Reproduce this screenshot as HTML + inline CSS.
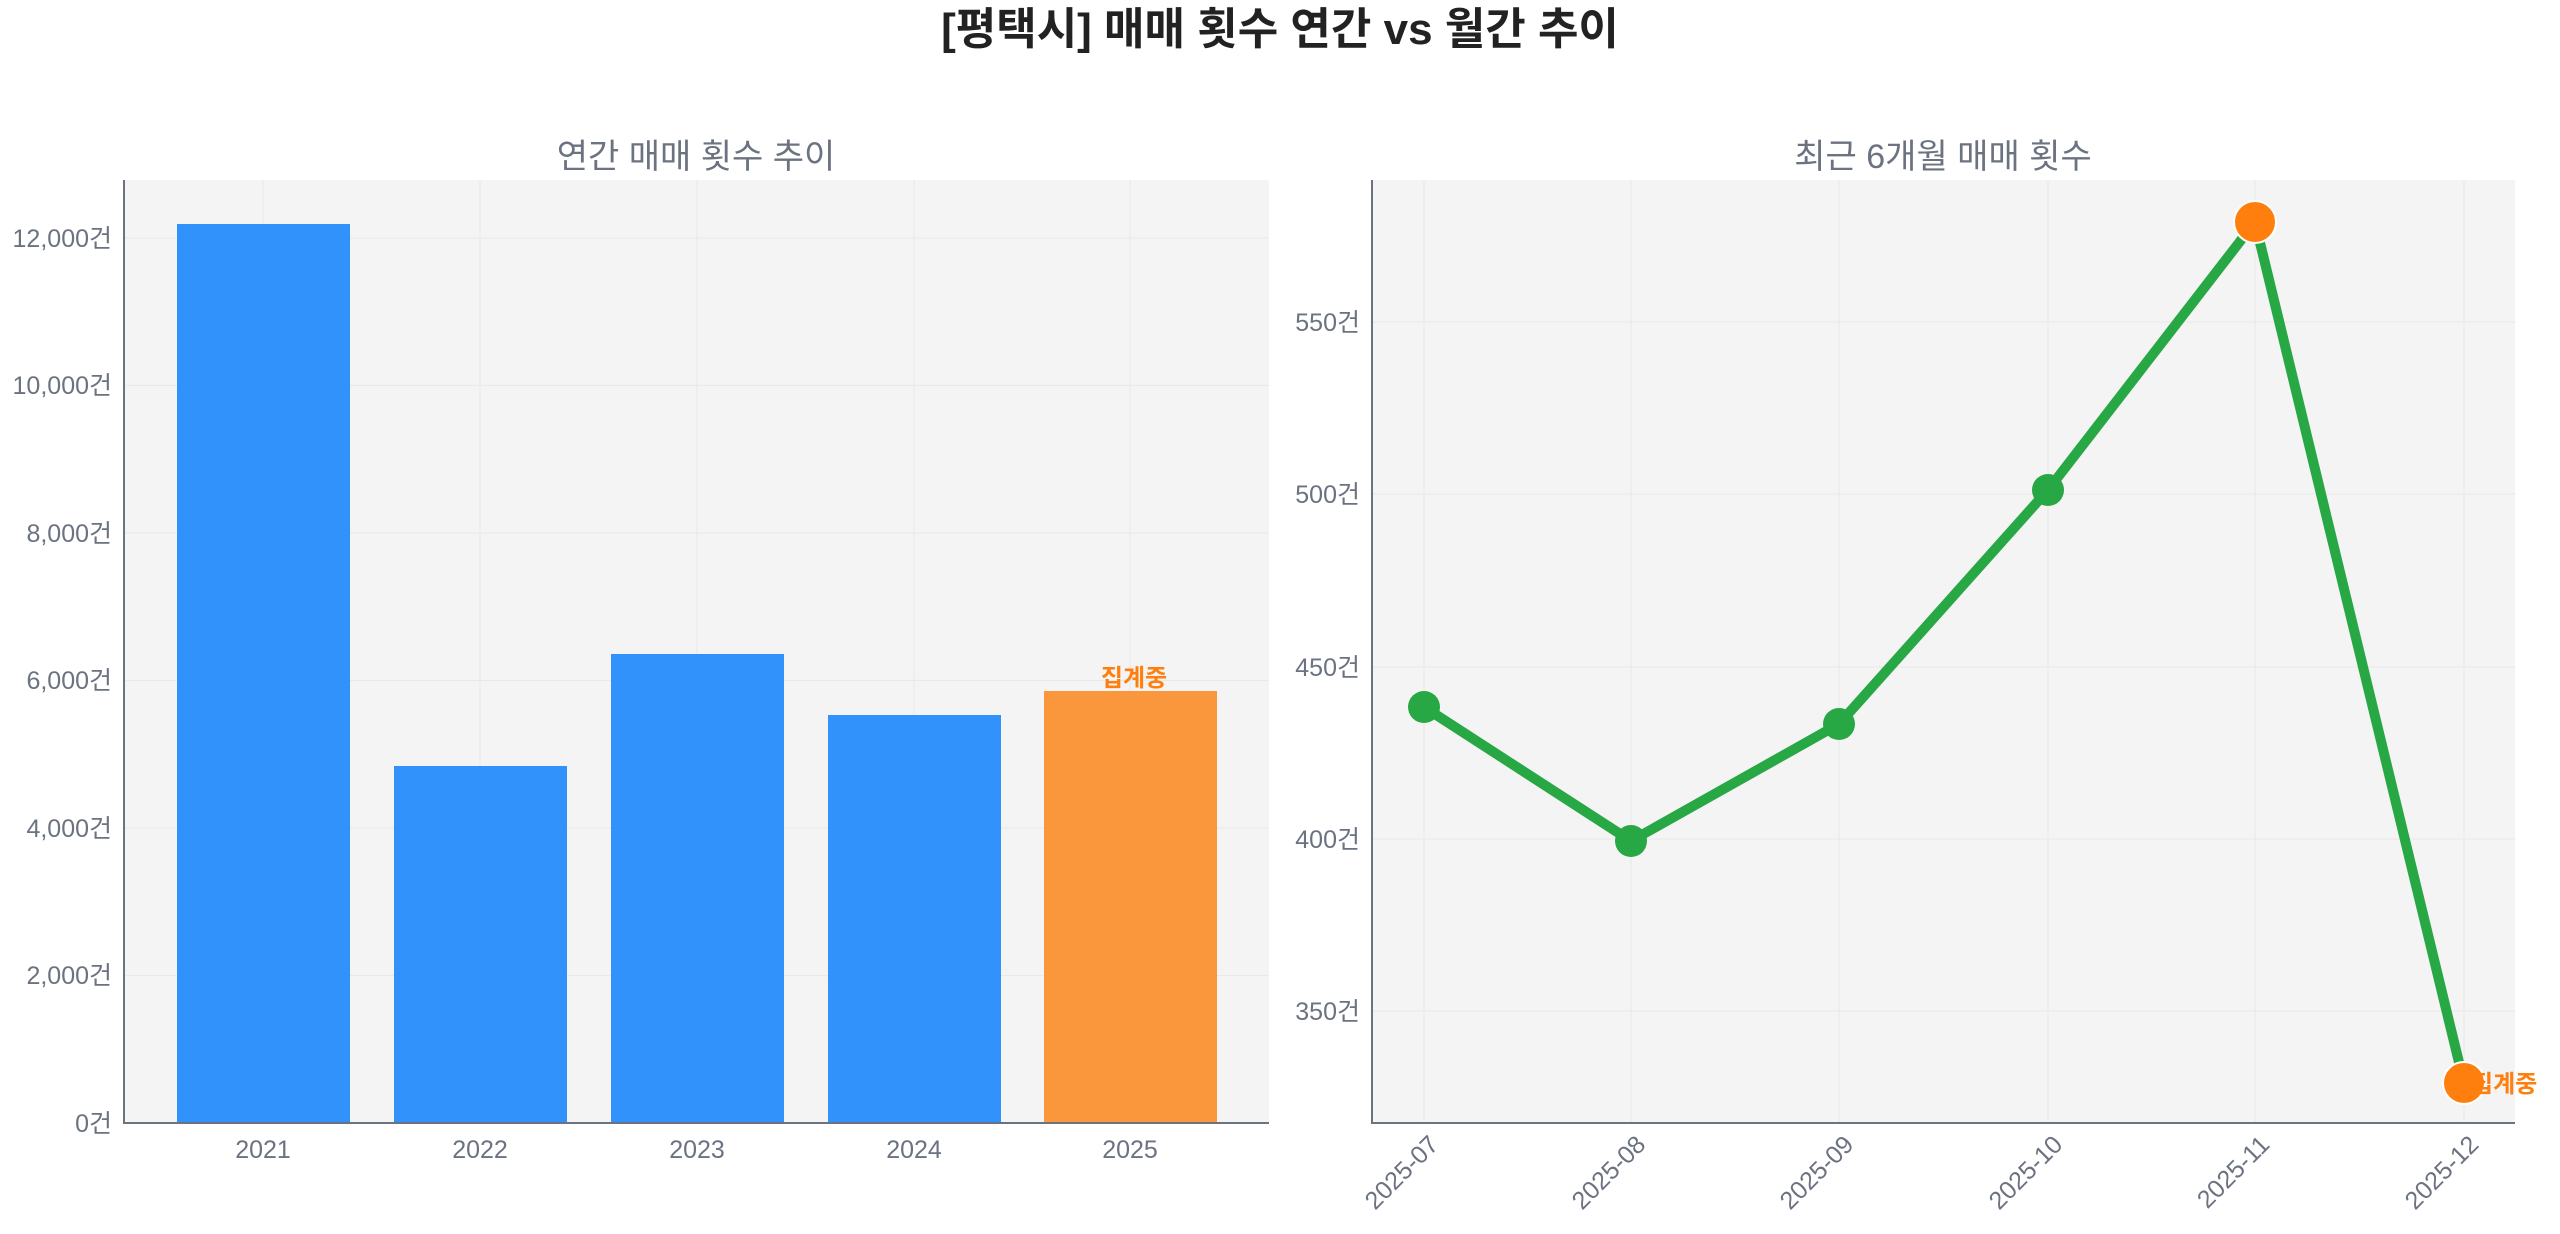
<!DOCTYPE html>
<html><head><meta charset="utf-8"><style>
html,body{margin:0;padding:0;background:#fff}
svg{display:block;font-family:"Liberation Sans","Noto Sans CJK KR",sans-serif}
</style></head><body>
<svg width="2560" height="1234" viewBox="0 0 2560 1234" xmlns="http://www.w3.org/2000/svg">
<text x="1280" y="44" text-anchor="middle" font-size="44" font-weight="bold" fill="#222" font-family="Liberation Sans, Noto Sans CJK KR, sans-serif">[평택시] 매매 횟수 연간 vs 월간 추이</text>

<!-- Left chart -->
<rect x="124" y="180" width="1145" height="943" fill="#f4f4f4"/>
<g stroke="#e9e9e9" stroke-width="1.2">
<line x1="124" x2="1269" y1="975.5" y2="975.5"/><line x1="124" x2="1269" y1="828" y2="828"/>
<line x1="124" x2="1269" y1="680.5" y2="680.5"/><line x1="124" x2="1269" y1="533" y2="533"/>
<line x1="124" x2="1269" y1="385.5" y2="385.5"/><line x1="124" x2="1269" y1="238" y2="238"/>
<line x1="263" x2="263" y1="180" y2="1123"/><line x1="480" x2="480" y1="180" y2="1123"/>
<line x1="697" x2="697" y1="180" y2="1123"/><line x1="914" x2="914" y1="180" y2="1123"/>
<line x1="1130" x2="1130" y1="180" y2="1123"/>
</g>
<text x="696" y="168" text-anchor="middle" font-size="34" fill="#6b7280">연간 매매 횟수 추이</text>
<g fill="#3092fa">
<rect x="177" y="224" width="173" height="899"/>
<rect x="394" y="766" width="173" height="357"/>
<rect x="611" y="654" width="173" height="469"/>
<rect x="828" y="715" width="173" height="408"/>
</g>
<rect x="1044" y="691" width="173" height="432" fill="#fa963c"/>
<text x="1134" y="686" text-anchor="middle" font-size="24" font-weight="bold" fill="#ff7f0e">집계중</text>
<g stroke="#6b7280" stroke-width="2">
<line x1="124" x2="124" y1="180" y2="1124"/><line x1="123" x2="1269" y1="1123" y2="1123"/>
</g>
<g font-size="25" fill="#6b7280" text-anchor="end">
<text x="112" y="1132">0건</text><text x="112" y="984">2,000건</text><text x="112" y="837">4,000건</text>
<text x="112" y="689">6,000건</text><text x="112" y="542">8,000건</text><text x="112" y="394">10,000건</text><text x="112" y="247">12,000건</text>
</g>
<g font-size="25" fill="#6b7280" text-anchor="middle">
<text x="263" y="1158">2021</text><text x="480" y="1158">2022</text><text x="697" y="1158">2023</text>
<text x="914" y="1158">2024</text><text x="1130" y="1158">2025</text>
</g>

<!-- Right chart -->
<rect x="1372" y="180" width="1143" height="943" fill="#f4f4f4"/>
<g stroke="#e9e9e9" stroke-width="1.2">
<line x1="1372" x2="2515" y1="322" y2="322"/><line x1="1372" x2="2515" y1="494" y2="494"/>
<line x1="1372" x2="2515" y1="667" y2="667"/><line x1="1372" x2="2515" y1="839" y2="839"/>
<line x1="1372" x2="2515" y1="1011" y2="1011"/>
<line x1="1424" x2="1424" y1="180" y2="1123"/><line x1="1631" x2="1631" y1="180" y2="1123"/>
<line x1="1839" x2="1839" y1="180" y2="1123"/><line x1="2048" x2="2048" y1="180" y2="1123"/>
<line x1="2255" x2="2255" y1="180" y2="1123"/><line x1="2464" x2="2464" y1="180" y2="1123"/>
</g>
<text x="1943" y="168" text-anchor="middle" font-size="34" fill="#6b7280">최근 6개월 매매 횟수</text>
<polyline points="1424,707 1631,841 1839,724 2048,490 2255,222 2464,1083" fill="none" stroke="#28a745" stroke-width="10" stroke-linejoin="round"/>
<g fill="#28a745">
<circle cx="1424" cy="707" r="16"/><circle cx="1631" cy="841" r="16"/>
<circle cx="1839" cy="724" r="16"/><circle cx="2048" cy="490" r="16"/>
</g>
<g fill="#ff7f0e" stroke="#fff" stroke-width="2">
<circle cx="2255" cy="222" r="21"/><circle cx="2464" cy="1083" r="21"/>
</g>
<text x="2471" y="1092" font-size="24" font-weight="bold" fill="#ff7f0e">집계중</text>
<g stroke="#6b7280" stroke-width="2">
<line x1="1372" x2="1372" y1="180" y2="1124"/><line x1="1371" x2="2515" y1="1123" y2="1123"/>
</g>
<g font-size="25" fill="#6b7280" text-anchor="end">
<text x="1360" y="331">550건</text><text x="1360" y="503">500건</text><text x="1360" y="676">450건</text>
<text x="1360" y="848">400건</text><text x="1360" y="1020">350건</text>
</g>
<g font-size="25" fill="#6b7280" text-anchor="end">
<text transform="translate(1440,1146) rotate(-45)">2025-07</text>
<text transform="translate(1647,1146) rotate(-45)">2025-08</text>
<text transform="translate(1855,1146) rotate(-45)">2025-09</text>
<text transform="translate(2064,1146) rotate(-45)">2025-10</text>
<text transform="translate(2271,1146) rotate(-45)">2025-11</text>
<text transform="translate(2480,1146) rotate(-45)">2025-12</text>
</g>
</svg>
</body></html>
